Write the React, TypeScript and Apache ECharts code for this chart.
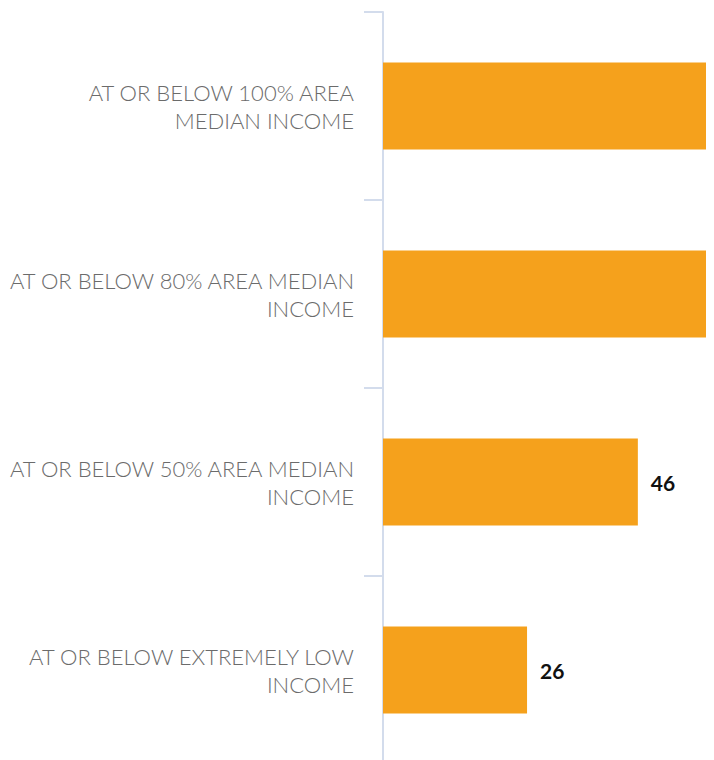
import React, { useEffect, useRef } from "react";
import * as echarts from "echarts";

const categories = [
  "AT OR BELOW 100% AREA\nMEDIAN INCOME",
  "AT OR BELOW 80% AREA MEDIAN\nINCOME",
  "AT OR BELOW 50% AREA MEDIAN\nINCOME",
  "AT OR BELOW EXTREMELY LOW\nINCOME",
];
const values = [78, 67, 46, 26];
const axisMax = 58.3;

export default function App() {
  const ref = useRef<HTMLDivElement>(null);
  useEffect(() => {
    if (!ref.current) return;
    document.documentElement.style.overflow = "hidden";
    document.body.style.overflow = "hidden";
    const chart = echarts.init(ref.current, undefined, { renderer: "svg" });
    chart.setOption({
      animation: false,
      grid: { left: 383, top: 12, height: 752, width: 323, containLabel: false },
      xAxis: {
        type: "value",
        min: 0,
        max: axisMax,
        show: false,
        splitLine: { show: false },
      },
      yAxis: {
        type: "category",
        inverse: true,
        data: categories,
        axisLine: { show: true, lineStyle: { color: "#d3dcec", width: 2 } },
        axisTick: { show: true, length: 19, lineStyle: { color: "#d3dcec", width: 2 } },
        axisLabel: {
          margin: 29,
          color: "#6b6b6b",
          fontFamily: "Lato",
          fontWeight: 300,
          fontSize: 22,
          lineHeight: 28,
          align: "right",
        },
      },
      series: [
        {
          type: "bar",
          barWidth: 87,
          clip: true,
          itemStyle: { color: "#f5a11c" },
          data: values.map((v) => ({
            value: v,
            label: {
              show: v <= axisMax,
              position: "right",
              distance: 13,
              color: "#111",
              fontFamily: "Lato",
              fontWeight: "bold",
              fontSize: 21,
            },
          })),
        },
      ],
    });
    return () => chart.dispose();
  }, []);
  return (
    <div
      ref={ref}
      style={{ position: "absolute", left: 0, top: 0, width: 714, height: 780 }}
    />
  );
}
